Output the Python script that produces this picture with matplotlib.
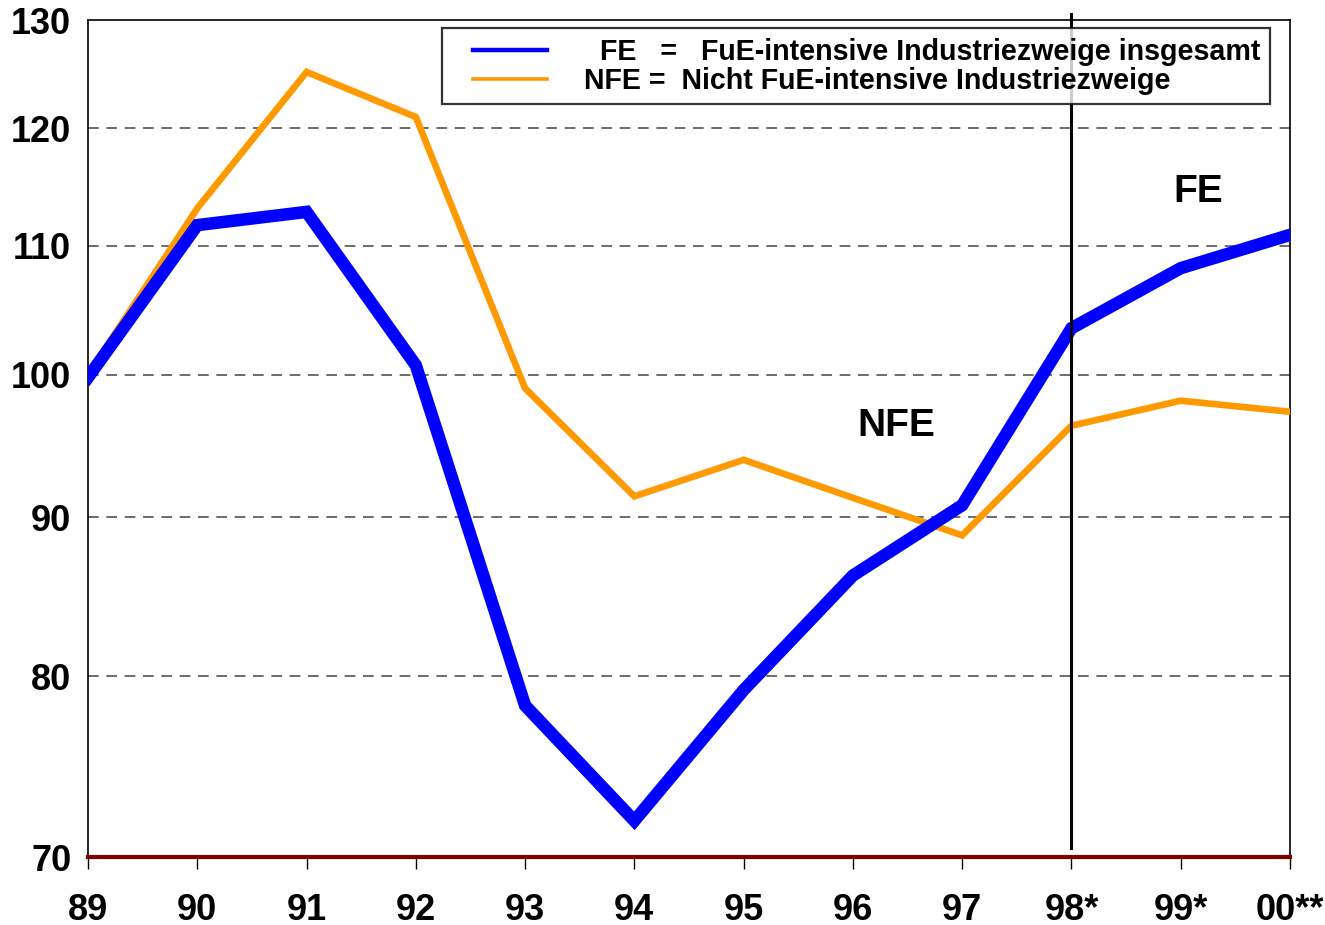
import numpy as np
import matplotlib.pyplot as plt
from matplotlib.lines import Line2D
from matplotlib.legend_handler import HandlerLine2D

# index values (log scale axis)
years = ['89', '90', '91', '92', '93', '94', '95', '96', '97', '98*', '99*', '00**']
fe = [99.8, 111.7, 112.8, 100.7, 78.3, 71.9, 79.2, 86.2, 90.8, 103.5, 108.2, 110.9]
nfe = [100.0, 113.1, 125.1, 121.0, 99.0, 91.4, 93.9, 91.3, 88.8, 96.3, 98.1, 97.3]
yticks = [70, 80, 90, 100, 110, 120, 130]

narrow = ['Liberation Sans Narrow', 'DejaVu Sans Condensed', 'Liberation Sans', 'DejaVu Sans']
wide = ['Liberation Sans', 'DejaVu Sans']
plt.rcParams['font.family'] = narrow
plt.rcParams['font.weight'] = 'bold'


class ShiftedLine(HandlerLine2D):
    # legend line starts a bit further in from the frame
    def create_artists(self, legend, orig_handle, xdescent, ydescent,
                       width, height, fontsize, trans):
        return super().create_artists(legend, orig_handle, xdescent - 16, ydescent,
                                      width - 16, height, fontsize, trans)


fig = plt.figure(figsize=(13.25, 9.25), dpi=100)
ax = fig.add_axes([88/1325, 1-857/925, 1202/1325, 837/925])

x = np.arange(len(years))
ax.plot(x, fe, color='#0000ff', lw=9, solid_joinstyle='miter', zorder=4)
ax.plot(x, nfe, color='#ff9900', lw=4.8, solid_joinstyle='miter', zorder=3)

ax.set_yscale('log')
ax.set_ylim(70, 130)
ax.set_xlim(0, len(years)-1)
ax.set_yticks(yticks)
ax.set_yticklabels([str(t) for t in yticks])
ax.yaxis.set_minor_locator(plt.NullLocator())
ax.set_xticks(x)
ax.set_xticklabels(years)

for t in yticks[1:-1]:
    ax.axhline(t, color='#444444', lw=1.1, ls=(0, (7, 5)), zorder=1)

ax.tick_params(axis='y', length=0, pad=12, labelsize=26)
ax.tick_params(axis='x', length=8.6, width=1, direction='out', pad=17, labelsize=26)

for s in ['top', 'right', 'left']:
    ax.spines[s].set_linewidth(1.2)
ax.spines['bottom'].set_color('#800000')
ax.spines['bottom'].set_linewidth(3)
ax.spines['bottom'].set_zorder(5)

# vertical separator at 98
ax.plot([9, 9], [70.47, 130.6], color='black', lw=2.2, clip_on=False, zorder=6)

ax.text(7.4, 96.3, 'NFE', fontsize=28, fontweight='bold', family=wide,
        ha='center', va='center')
ax.text(10.16, 114.5, 'FE', fontsize=28, fontweight='bold', family=wide,
        ha='center', va='center')

handles = [Line2D([], [], color='#0000ff', lw=3.2),
           Line2D([], [], color='#ff9900', lw=2.6)]
labels = ['  FE   =   FuE-intensive Industriezweige insgesamt',
          'NFE =  Nicht FuE-intensive Industriezweige']
leg = ax.legend(handles, labels, loc='upper left',
                bbox_to_anchor=(0.2945, 0.990),
                borderaxespad=0, frameon=True, fancybox=False,
                handlelength=3.35, handletextpad=1.3, labelspacing=0.05,
                borderpad=0.32, prop={'family': wide, 'weight': 'bold', 'size': 20.6},
                handler_map={Line2D: ShiftedLine()})
leg.get_frame().set_edgecolor('black')
leg.get_frame().set_linewidth(1.6)
leg.set_zorder(10)

plt.savefig('out.png', dpi=100)
